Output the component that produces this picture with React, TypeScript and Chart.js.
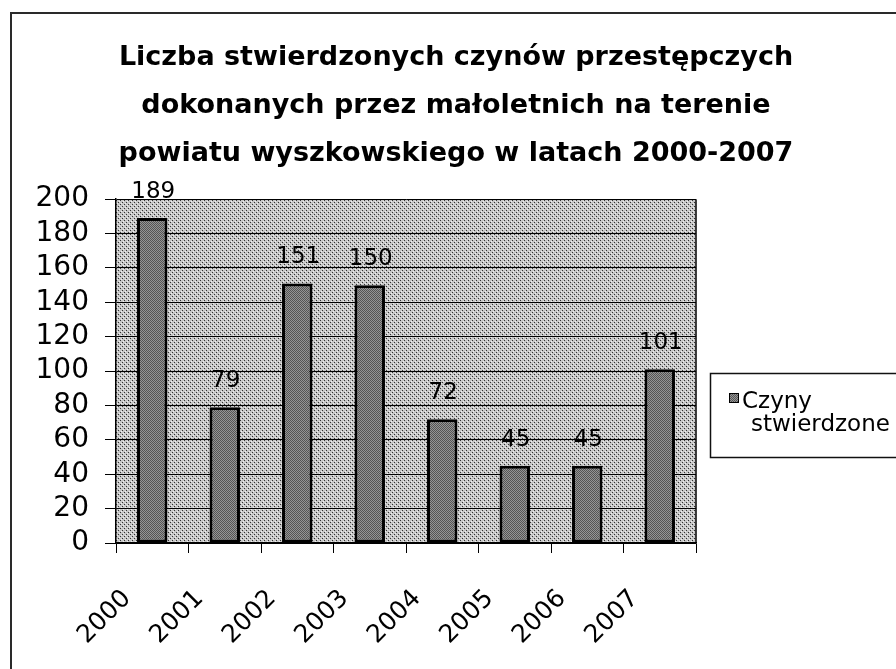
import React, { useEffect, useRef } from "react";
import { Chart, registerables } from "chart.js";

Chart.register(...registerables);

const categories = ["2000", "2001", "2002", "2003", "2004", "2005", "2006", "2007"];
const seriesLabel = "Czyny stwierdzone";
const values = [189, 79, 151, 150, 72, 45, 45, 101];
const yMin = 0;
const yMax = 200;
const yStep = 20;
const titleLines = [
  "Liczba stwierdzonych czynów przestępczych",
  "dokonanych przez małoletnich na terenie",
  "powiatu wyszkowskiego w latach 2000-2007",
];

const FONT = '"DejaVu Sans", "Liberation Sans", Arial, sans-serif';

function makePattern(
  ctx: CanvasRenderingContext2D,
  base: string,
  spots: Array<[number, number, string]>
): CanvasPattern | string {
  const c = document.createElement("canvas");
  c.width = 4;
  c.height = 4;
  const g = c.getContext("2d");
  if (!g) return base;
  g.fillStyle = base;
  g.fillRect(0, 0, 4, 4);
  spots.forEach(([x, y, col]) => {
    g.fillStyle = col;
    g.fillRect(x, y, 1, 1);
  });
  return ctx.createPattern(c, "repeat") || base;
}

export default function App() {
  const ref = useRef<HTMLCanvasElement | null>(null);

  useEffect(() => {
    document.body.style.margin = "0";
    const canvas = ref.current;
    if (!canvas) return;
    const ctx = canvas.getContext("2d");
    if (!ctx) return;

    const plotPattern = makePattern(ctx, "#c6c6c6", [
      [0, 0, "#333333"],
      [2, 2, "#333333"],
      [1, 3, "#efefef"],
      [3, 1, "#efefef"],
    ]);
    const barPattern = makePattern(ctx, "#959595", [
      [0, 0, "#555555"],
      [1, 1, "#555555"],
      [2, 0, "#555555"],
      [3, 1, "#555555"],
      [0, 2, "#555555"],
      [1, 3, "#555555"],
      [2, 2, "#555555"],
      [3, 3, "#555555"],
    ]);

    const framePlugin = {
      id: "frame",
      beforeDraw(chart: any) {
        const { ctx: c, chartArea: a } = chart;
        c.save();
        c.fillStyle = "#ffffff";
        c.fillRect(0, 0, chart.width, chart.height);
        c.fillStyle = plotPattern as any;
        c.fillRect(a.left, a.top, a.right - a.left, a.bottom - a.top);
        c.restore();
      },
      afterDraw(chart: any) {
        const { ctx: c, chartArea: a } = chart;
        c.save();
        // outer chart border (left and top visible)
        c.strokeStyle = "#2a2a2a";
        c.lineWidth = 2;
        c.beginPath();
        c.moveTo(11, chart.height + 5);
        c.lineTo(11, 13);
        c.lineTo(chart.width + 5, 13);
        c.stroke();
        // plot area right border
        c.strokeStyle = "#000";
        c.lineWidth = 1.5;
        c.beginPath();
        c.moveTo(a.right, a.top);
        c.lineTo(a.right, a.bottom);
        c.stroke();
        // legend box
        const lx = 710;
        const ly = 373;
        c.fillStyle = "#fff";
        c.fillRect(lx, ly, 220, 84);
        c.strokeStyle = "#111";
        c.lineWidth = 1.5;
        c.strokeRect(lx + 0.5, ly + 0.5, 220, 84);
        c.fillStyle = barPattern as any;
        c.fillRect(729, 393, 10, 10);
        c.strokeStyle = "#000";
        c.lineWidth = 1;
        c.strokeRect(729.5, 393.5, 9, 9);
        const words = (chart.data.datasets[0].label as string).split(" ");
        c.fillStyle = "#000";
        c.font = "23px " + FONT;
        c.textAlign = "left";
        c.textBaseline = "alphabetic";
        c.fillText(words[0], 742, 408);
        c.fillText(words.slice(1).join(" "), 751, 431);
        c.restore();
      },
    };

    const dataLabelPlugin = {
      id: "dataLabels",
      afterDatasetsDraw(chart: any) {
        const c = chart.ctx;
        const meta = chart.getDatasetMeta(0);
        const data = chart.data.datasets[0].data as number[];
        c.save();
        c.font = "23px " + FONT;
        c.fillStyle = "#000";
        c.textAlign = "center";
        c.textBaseline = "alphabetic";
        meta.data.forEach((el: any, i: number) => {
          c.fillText(String(data[i]), el.x + 1, el.y - 20);
        });
        c.restore();
      },
    };

    const chart = new Chart(canvas, {
      type: "bar",
      data: {
        labels: categories,
        datasets: [
          {
            label: seriesLabel,
            data: values,
            backgroundColor: barPattern as any,
            borderColor: "#000",
            borderWidth: 3,
            borderSkipped: false,
            barPercentage: 0.42,
            categoryPercentage: 1,
          },
        ],
      },
      options: {
        animation: false,
        responsive: false,
        layout: { padding: { left: 16, right: 0, top: 0, bottom: 0 } },
        plugins: {
          legend: { display: false },
          tooltip: { enabled: false },
          title: {
            display: true,
            text: titleLines,
            color: "#000",
            font: { family: FONT, size: 27, weight: "bold", lineHeight: 1.78 },
            padding: { top: 34, bottom: 21 },
          },
        },
        scales: {
          x: {
            grid: {
              offset: true,
              drawOnChartArea: false,
              drawTicks: true,
              tickLength: 10,
              color: "#000",
              lineWidth: 1,
            },
            border: { display: true, color: "#000", width: 1.5 },
            ticks: {
              color: "#000",
              font: { family: FONT, size: 25 },
              minRotation: 45,
              maxRotation: 45,
              autoSkip: false,
              labelOffset: -25,
              padding: 31,
            },
            afterFit: (s: any) => {
              s.height = 126;
            },
          },
          y: {
            min: yMin,
            max: yMax,
            grid: {
              color: "#000",
              lineWidth: 1,
              drawTicks: true,
              tickLength: 11,
            },
            border: { display: true, color: "#000", width: 1.5 },
            ticks: {
              stepSize: yStep,
              color: "#000",
              font: { family: FONT, size: 28 },
              padding: 16,
              autoSkip: false,
            },
            afterFit: (s: any) => {
              s.width = 100;
            },
          },
          yRight: {
            position: "right",
            display: true,
            grid: { display: false, drawTicks: false },
            border: { display: false },
            ticks: { display: false },
            afterFit: (s: any) => {
              s.width = 200;
            },
          },
        },
      },
      plugins: [framePlugin, dataLabelPlugin],
    });

    return () => {
      chart.destroy();
    };
  }, []);

  return (
    <div style={{ width: 896, height: 669 }}>
      <canvas ref={ref} width={896} height={669} style={{ width: 896, height: 669, display: "block" }} />
    </div>
  );
}
